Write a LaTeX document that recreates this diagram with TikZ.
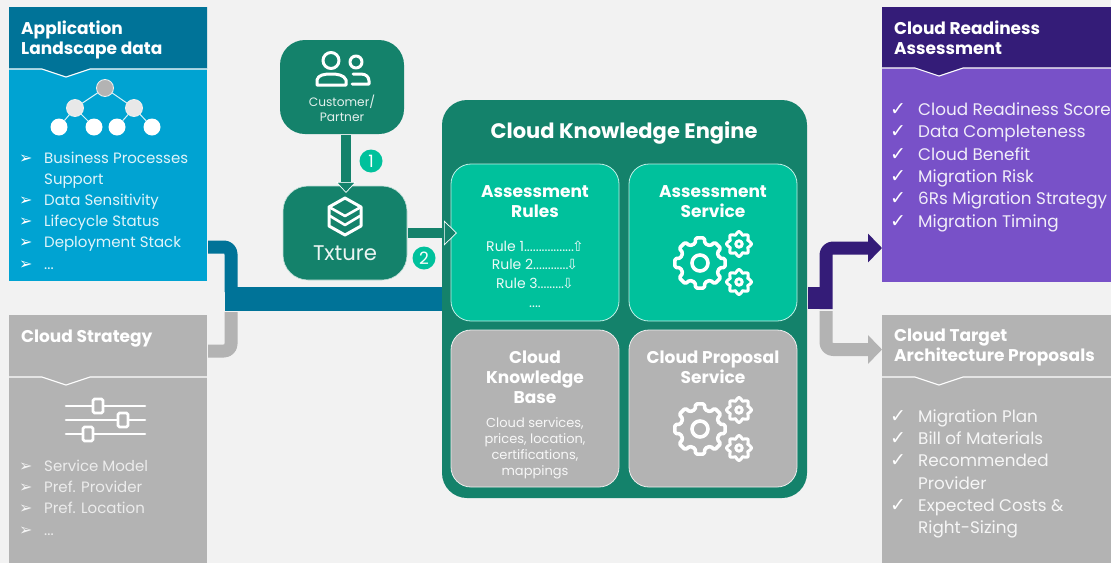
\documentclass[tikz,border=0pt]{standalone}
\usepackage{fontspec}
\setmainfont{Poppins}
\newfontfamily\symfont{DejaVu Sans}
\usetikzlibrary{arrows.meta,calc,shapes.geometric}
\definecolor{bg}{HTML}{F2F2F2}
\definecolor{bluehead}{HTML}{007398}
\definecolor{bluebody}{HTML}{00A3D2}
\definecolor{greendk}{HTML}{14826B}
\definecolor{mint}{HTML}{00C19C}
\definecolor{greyp}{HTML}{B3B3B3}
\definecolor{purphead}{HTML}{341C78}
\definecolor{purpbody}{HTML}{7851C8}
\newcommand{\tdots}{...}
\newcommand{\rulea}{Rule 1.................\kern-2pt{\symfont⇧}}
\newcommand{\ruleb}{Rule 2............\kern-2pt{\symfont⇩}}
\newcommand{\rulec}{Rule 3.........\kern-2pt{\symfont⇩}}
\newcommand{\ruled}{....}
\tikzset{
  panel/.style={rectangle,inner sep=0pt,outer sep=0pt,anchor=north west},
  rbox/.style={rectangle,rounded corners=#1,inner sep=0pt,outer sep=0pt,anchor=north west},
  head/.style={font=\fontsize{17}{20}\selectfont\bfseries,text=white,align=left,anchor=north west,inner sep=0pt},
  ctitle/.style={font=\fontsize{17}{20}\selectfont\bfseries,text=white,align=center,inner sep=0pt,anchor=north},
  litem/.style={font=\fontsize{15}{18}\selectfont,text=#1,anchor=base west,inner sep=0pt},
  litemb/.style={font=\fontsize{16.8}{18}\selectfont,text=#1,anchor=base west,inner sep=0pt},
  sym/.style={font=\symfont\fontsize{16}{18}\selectfont,text=#1,anchor=base west,inner sep=0pt},
  symb/.style={font=\symfont\fontsize{19}{18}\selectfont,text=#1,anchor=base west,inner sep=0pt},
  ico/.style={draw=white,line width=2.6pt,line join=round,line cap=round},
  badge/.style={circle,fill=mint,text=white,minimum size=23pt,inner sep=0pt,font=\fontsize{17}{17}\selectfont},
  dot/.style={circle,minimum size=17pt,inner sep=0pt,outer sep=0pt},
  conn/.style={line width=#1,line join=round},
}
\newcommand{\sep}[3]{% x0, x1, y: notch separator
  \draw[white,line width=1.1pt] (#1,#3) -- ({#1+33},#3) -- ({#1+57},{#3+8}) -- ({#1+81},#3) -- (#2,#3);}
\newcommand{\headfill}[5]{% x0,x1,ytop,ysep,colour
  \fill[#5] (#1,#3) -- (#2,#3) -- (#2,#4) -- ({#1+81},#4) -- ({#1+57},{#4+8}) -- ({#1+33},#4) -- (#1,#4) -- cycle;}
\newcommand{\gearshape}[7]{% cx,cy,outer,inner,hole,teeth,stroke
  \begin{scope}[shift={(#1,#2)}]
    \pgfmathsetmacro{\st}{360/#6}
    \pgfmathsetmacro{\wa}{\st*0.22}
    \pgfmathsetmacro{\wb}{\st*0.31}
    \draw[ico,line width=#7,rounded corners=1.5pt]
      (-\wb:#4)
      \foreach \k in {1,...,#6}{
        -- ({(\k-1)*\st-\wa}:#3) -- ({(\k-1)*\st+\wa}:#3) -- ({(\k-1)*\st+\wb}:#4) -- ({\k*\st-\wb}:#4)
      } -- cycle;
    \draw[ico,line width=#7] (0,0) circle[radius=#5];
  \end{scope}}
\newcommand{\gears}[3]{% big centre x,y; small x
  \gearshape{#1}{#2}{25.5}{20}{8}{8}{3.6pt}
  \gearshape{#3}{#2-19}{12.5}{9.5}{3.2}{8}{3pt}
  \gearshape{#3}{#2+19}{12.5}{9.5}{3.2}{8}{3pt}}
\begin{document}
\begin{tikzpicture}[x=1pt,y=-1pt]
\useasboundingbox (0,0) rectangle (1111,563);
\fill[bg] (0,0) rectangle (1111,563);

% ---------- left panels
\node[panel,fill=bluebody,minimum width=198pt,minimum height=274pt] (app) at (9,7) {};
\headfill{9}{207}{7}{69}{bluehead}
\sep{9}{207}{69}
\node[head] (apptitle) at (21,21) {Application\\Landscape data};

\node[panel,fill=greyp,minimum width=198pt,minimum height=248pt] (strat) at (9,315) {};
\sep{9}{207}{377}
\node[head] (strattitle) at (21,329.5) {Cloud Strategy};

% tree icon
\node[dot,fill=greyp,draw=white!80!greyp,line width=.8pt] (t0) at (105,88) {};
\node[dot,fill=white!70!greyp,draw=white!80!greyp,line width=.8pt] (t1) at (75,108) {};
\node[dot,fill=white!70!greyp,draw=white!80!greyp,line width=.8pt] (t2) at (134,108) {};
\node[dot,fill=white] (t3) at (59,127) {};
\node[dot,fill=white] (t4) at (94,127) {};
\node[dot,fill=white] (t5) at (117,127) {};
\node[dot,fill=white] (t6) at (152,127) {};
\draw[white!85!bluebody,line width=1pt] (t0)--(t1) (t0)--(t2) (t1)--(t3) (t1)--(t4) (t2)--(t5) (t2)--(t6);

% list of left panels
\foreach \n/\y/\t in {a/163/Business Processes,b/184/Support,c/205/Data Sensitivity,d/226/Lifecycle Status,e/247/Deployment Stack,f/269/\tdots}
  \node[litem=white!88!bluebody] (appi\n) at (44,\y) {\t};
\foreach \n/\y in {a/163,c/205,d/226,e/247,f/269}
  \node[sym=white] (appb\n) at (19,\y) {➢};
\foreach \n/\y/\t in {a/471/Service Model,b/492/Pref. Provider,c/513/Pref. Location,d/535/\tdots}{
  \node[litem=white!75!greyp] (stri\n) at (44,\y) {\t};
  \node[sym=white!85!greyp] (strb\n) at (19,\y) {➢};}

% slider icon
\draw[ico,line width=2.6pt] (66,406)--(145,406) (66,420)--(145,420) (66,434)--(145,434);
\foreach \x/\y in {98/406,123/420,88/434}
  \draw[draw=white,fill=greyp,line width=2.6pt,rounded corners=1.5pt] ({\x-5},{\y-7}) rectangle ({\x+5},{\y+7});

% ---------- customer / txture
\node[rbox=25pt,fill=greendk,minimum width=124pt,minimum height=94pt] (cust) at (280,40) {};
\node[rbox=25pt,fill=greendk,minimum width=124pt,minimum height=94pt,draw=white!75!greendk,line width=.6pt] (tx) at (283,186) {};
\node[font=\fontsize{12.2}{15.5}\selectfont,text=white!88!greendk,align=center,inner sep=0pt,anchor=north] (custt) at (342,94.5) {Customer/\\Partner};
\node[font=\fontsize{21.2}{24}\selectfont,text=white!92!greendk,inner sep=0pt] (txt) at (345,253) {Txture};
% users icon
\draw[ico,line width=3pt] (331,60.5) circle[radius=8];
\draw[ico,line width=3pt] (356,62) circle[radius=6];
\draw[ico,line width=3pt] (317,85) -- (317,80) .. controls (318,75) and (324,74) .. (331,74) .. controls (338,74) and (344,75) .. (346,80) -- (346,85) -- cycle;
\draw[ico,line width=3pt] (353,74) -- (361,74) .. controls (366,74) and (369,77) .. (369,81) -- (369,84) -- (352,84);
% layers icon
\draw[ico,line width=3pt] (345,198) -- (361,207) -- (361,226) -- (345,235) -- (329,226) -- (329,207) -- cycle;
\draw[ico,line width=2.6pt] (329,207) -- (345,216) -- (361,207) (330,216) -- (345,225) -- (360,216);

% ---------- engine
\node[rbox=25pt,fill=greendk,minimum width=365pt,minimum height=398pt] (eng) at (442,100) {};
\node[font=\fontsize{21}{24}\selectfont\bfseries,text=white,inner sep=0pt] (engt) at (624,133) {Cloud Knowledge Engine};
\node[rbox=20pt,fill=mint,draw=white!75!mint,line width=.8pt,minimum width=168pt,minimum height=157pt] (rules) at (451,164) {};
\node[rbox=20pt,fill=mint,draw=white!75!mint,line width=.8pt,minimum width=168pt,minimum height=157pt] (asvc) at (629,164) {};
\node[rbox=20pt,fill=greyp,draw=white!75!greyp,line width=.8pt,minimum width=168pt,minimum height=157pt] (base) at (451,330) {};
\node[rbox=20pt,fill=greyp,draw=white!75!greyp,line width=.8pt,minimum width=168pt,minimum height=157pt] (prop) at (629,330) {};
\node[ctitle] (rulest) at (535,185) {Assessment\\Rules};
\node[ctitle] (asvct) at (713,185) {Assessment\\Service};
\node[ctitle] (baset) at (535,351) {Cloud\\Knowledge\\Base};
\node[ctitle] (propt) at (713,351) {Cloud Proposal\\Service};
\node[font=\fontsize{13}{16}\selectfont,text=white!90!greyp,align=center,inner sep=0pt,anchor=north] (based) at (535,417) {Cloud services,\\prices, location,\\certifications,\\mappings};
\foreach \n/\y/\t in {a/251/\rulea,b/269/\ruleb,c/288/\rulec,d/307/\ruled}
  \node[font=\fontsize{14}{16}\selectfont,text=white!92!mint,inner sep=0pt,anchor=base] (rule\n) at (535,\y) {\t};
\gears{700}{263}{739}
\gears{700}{429}{739}

% ---------- right panels
\node[panel,fill=purpbody,minimum width=229pt,minimum height=275pt] (ready) at (882,7) {};
\headfill{882}{1111}{7}{68}{purphead}
\sep{882}{1111}{68}
\node[head] (readyt) at (894,21) {Cloud Readiness\\Assessment};
\foreach \n/\y/\t in {a/115/Cloud Readiness Score,b/137/Data Completeness,c/160/Cloud Benefit,d/182/Migration Risk,e/204/6Rs Migration Strategy,f/227/Migration Timing}{
  \node[litemb=white!90!purpbody] (rdi\n) at (918,\y) {\t};
  \node[symb=white] (rdb\n) at (890,\y) {✓};}

\node[panel,fill=greyp,minimum width=229pt,minimum height=248pt] (arch) at (882,315) {};
\sep{882}{1111}{377}
\node[head] (archt) at (894,329) {Cloud Target\\Architecture Proposals};
\foreach \n/\y/\t in {a/422/Migration Plan,b/444/Bill of Materials,c/466/Recommended,d/489/Provider,e/511/Expected Costs \&,f/533/Right-Sizing}
  \node[litemb=white!88!greyp] (ari\n) at (918,\y) {\t};
\foreach \n/\y in {a/422,b/444,c/466,e/511}
  \node[symb=white] (arb\n) at (890,\y) {✓};

% ---------- connectors
\coordinate (blA) at (208,247);
\coordinate (blB) at (231,247);
\coordinate (blC) at (231,292);
\coordinate (blD) at (225,298.5);
\coordinate (grA) at (208,351);
\coordinate (grB) at (231,351);
\coordinate (grC) at (231,312);
\coordinate (puA) at (808,298);
\coordinate (puB) at (826,309);
\coordinate (puC) at (826,248);
\coordinate (puD) at (882,248);
\coordinate (grE) at (826,311);
\coordinate (grF) at (826,349.5);
\coordinate (grG) at (882,349.5);
\coordinate (a1a) at (346,135);
\coordinate (a1b) at (346,193);
\coordinate (a2a) at (408,233);
\coordinate (a2b) at (457,233);

\draw[conn=13pt,greyp,rounded corners=7pt] (grA) -- (grB) -- (grC);
\draw[conn=13pt,bluehead,rounded corners=7pt] (blA) -- (blB) -- (blC);
\draw[conn=24pt,bluehead] (blD) -- (eng.west |- blD);
\draw[conn=13pt,greyp,rounded corners=7pt,-{Triangle[length=14pt,width=28pt]}] (grE) -- (grF) -- (grG);
\draw[conn=22pt,purphead] (puA) -- (832,298);
\draw[conn=13pt,purphead,rounded corners=7pt,-{Triangle[length=14pt,width=28pt]}] (puB) -- (puC) -- (puD);
\draw[conn=10.5pt,greendk,-{Triangle[length=11pt,width=20pt,color=white,fill=greendk,line width=.7pt]}] (a1a) -- (a1b);
\draw[conn=10.5pt,greendk,-{Triangle[length=13pt,width=25pt,color=white,fill=greendk,line width=.7pt]}] (a2a) -- (a2b);
\node[badge] (b1) at (371,161) {1};
\node[badge] (b2) at (424,258) {2};
\end{tikzpicture}
\end{document}
